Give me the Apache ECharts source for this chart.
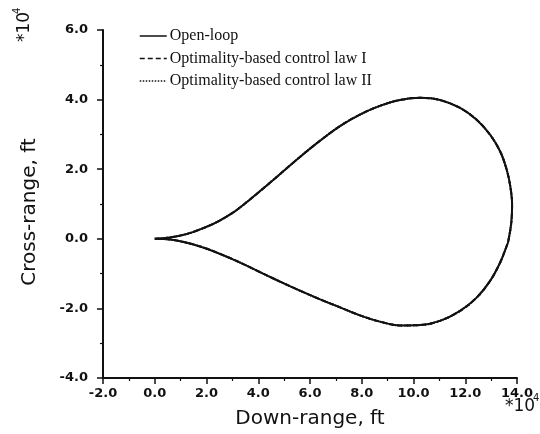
<!DOCTYPE html>
<html>
<head>
<meta charset="utf-8">
<script src="https://cdn.jsdelivr.net/npm/echarts@6/dist/echarts.min.js"></script>
<style>html,body{margin:0;padding:0;background:#fff;}#c{width:540px;height:434px;}</style>
</head>
<body>
<div id="c"></div>
<script>
// Trajectory (units of 1e4 ft), traced as a closed loop: upper branch out, lower branch back
const downRange = [0, 0.59, 1.20, 1.75, 2.40, 3.02, 3.68, 4.34, 5.61, 6.39, 7.16, 7.93, 8.70, 9.48, 10.25, 11.02, 11.80, 12.44, 12.96, 13.35, 13.60, 13.74, 13.81, 13.78, 13.66, 13.60, 13.35, 12.96, 12.44, 11.80, 11.02, 10.25, 9.48, 8.70, 7.93, 7.16, 6.39, 5.61, 4.84, 4.33, 3.02, 1.75, 0.59, 0];
const crossRange = [0, 0.04, 0.13, 0.27, 0.48, 0.75, 1.13, 1.54, 2.35, 2.82, 3.24, 3.57, 3.82, 3.99, 4.05, 3.99, 3.76, 3.42, 2.99, 2.51, 1.99, 1.51, 0.99, 0.47, -0.08, -0.21, -0.68, -1.21, -1.69, -2.07, -2.36, -2.48, -2.49, -2.38, -2.20, -1.97, -1.74, -1.49, -1.23, -1.05, -0.59, -0.22, -0.02, 0];
// The three trajectories coincide in the figure
const seriesNames = ['Open-loop', 'Optimality-based control law I', 'Optimality-based control law II'];
const seriesLineTypes = ['solid', [5, 3], [1.5, 1.5]];
const xTicks = { min: -2, max: 14, interval: 2 };
const yTicks = { min: -4, max: 6, interval: 2 };

const pts = downRange.map((x, i) => [x, crossRange[i]]);
const chart = echarts.init(document.getElementById('c'), null, { renderer: 'canvas' });
const labelFont = { color: '#111', fontFamily: 'DejaVu Sans', fontWeight: 'bold', fontSize: 13 };
chart.setOption({
  animation: false,
  backgroundColor: '#fff',
  grid: { left: 103, right: 23, top: 30, bottom: 55 },
  legend: {
    orient: 'vertical', left: 134, top: 23,
    itemWidth: 27, itemHeight: 14, itemGap: 6.5,
    itemStyle: { opacity: 0 },
    lineStyle: { width: 1.5 },
    textStyle: { fontFamily: 'Liberation Serif', fontSize: 16, color: '#111', padding: [0, 0, 0, -2] },
    data: seriesNames
  },
  xAxis: {
    type: 'value', min: xTicks.min, max: xTicks.max, interval: xTicks.interval,
    name: 'Down-range, ft', nameLocation: 'middle', nameGap: 31,
    nameTextStyle: { fontFamily: 'DejaVu Sans', fontSize: 20, color: '#111' },
    axisLine: { onZero: false, lineStyle: { color: '#111', width: 2 } },
    axisTick: { length: 6, lineStyle: { color: '#111', width: 1.5 } },
    minorTick: { show: true, splitNumber: 2, length: 3, lineStyle: { color: '#111', width: 1.2 } },
    splitLine: { show: false },
    axisLabel: Object.assign({ margin: 9, formatter: v => v.toFixed(1) }, labelFont)
  },
  yAxis: {
    type: 'value', min: yTicks.min, max: yTicks.max, interval: yTicks.interval,
    axisLine: { onZero: false, lineStyle: { color: '#111', width: 2 } },
    axisTick: { length: 6, lineStyle: { color: '#111', width: 1.5 } },
    minorTick: { show: true, splitNumber: 2, length: 3, lineStyle: { color: '#111', width: 1.2 } },
    splitLine: { show: false },
    axisLabel: Object.assign({ margin: 15, formatter: v => v.toFixed(1) }, labelFont)
  },
  series: seriesNames.map((n, i) => ({
    name: n, type: 'line', data: pts, symbol: 'none', smooth: 0.35,
    lineStyle: { color: '#111', width: 2, type: seriesLineTypes[i] },
    itemStyle: { color: '#111' },
    z: 3 - i
  })),
  graphic: [
    { type: 'text', x: 30, y: 212, rotation: Math.PI / 2,
      style: { text: 'Cross-range, ft', fontFamily: 'DejaVu Sans', fontSize: 20, fill: '#111', align: 'center', verticalAlign: 'middle' } },
    { type: 'text', left: 505, top: 398, style: { text: '*10', fontFamily: 'DejaVu Sans', fontSize: 17, fill: '#111' } },
    { type: 'text', left: 533, top: 393, style: { text: '4', fontFamily: 'DejaVu Sans', fontSize: 10, fill: '#111' } },
    { type: 'text', x: 16, y: 42, rotation: Math.PI / 2, style: { text: '*10', fontFamily: 'DejaVu Sans', fontSize: 17, fill: '#111' } },
    { type: 'text', x: 12, y: 14, rotation: Math.PI / 2, style: { text: '4', fontFamily: 'DejaVu Sans', fontSize: 10, fill: '#111' } }
  ]
});
</script>
</body>
</html>
